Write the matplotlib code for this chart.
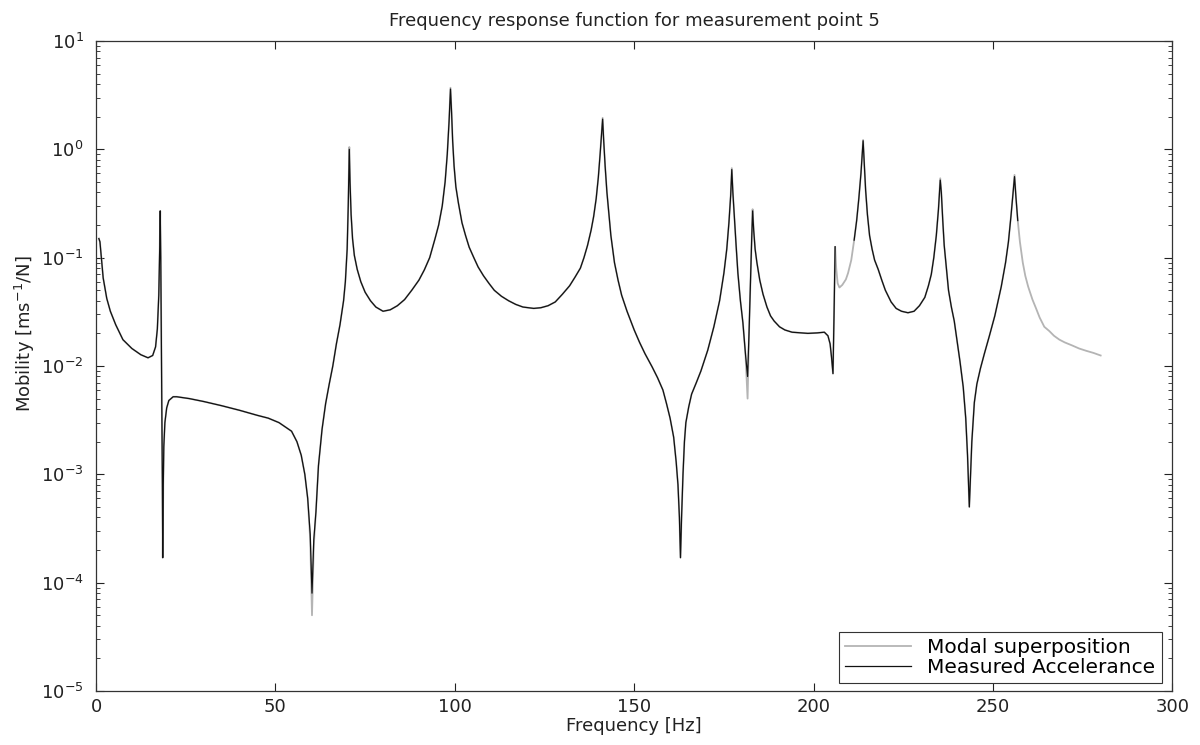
import numpy as np
import matplotlib
matplotlib.use("Agg")
import matplotlib.pyplot as plt
from matplotlib.ticker import LogLocator, NullFormatter

plt.rcParams['font.family'] = ['DejaVu Sans']
plt.rcParams['mathtext.fontset'] = 'dejavusans'
plt.rcParams['mathtext.default'] = 'regular'

title = "Frequency response function for measurement point 5"
x_label = "Frequency [Hz]"
y_label = "Mobility [ms$^{-1}$/N]"
legend_labels = ["Modal superposition", "Measured Accelerance"]
x_ticks = [0, 50, 100, 150, 200, 250, 300]

freq_hz = [
    0.8, 1.1, 1.5, 2.0, 3.0, 4.0, 5.5, 7.5, 10.0, 12.5,
    14.5, 15.8, 16.6, 17.1, 17.5, 17.75, 17.9, 18.05, 18.2, 18.35,
    18.5, 18.6, 18.75, 18.9, 19.2, 19.7, 20.3, 21.5, 22.5, 26.0,
    30.0, 35.0, 40.0, 45.0, 48.0, 51.0, 53.0, 54.5, 56.0, 57.2,
    58.2, 59.0, 59.7, 60.2, 60.7, 61.3, 62.0, 63.0, 64.0, 65.0,
    66.0, 67.0, 68.0, 69.0, 69.5, 70.0, 70.3, 70.6, 70.8, 71.1,
    71.5, 72.0, 72.8, 73.8, 75.0, 76.5, 78.0, 80.0, 82.0, 84.0,
    86.0, 88.0, 90.0, 91.5, 93.0, 94.5, 95.5, 96.5, 97.3, 97.9,
    98.4, 98.8, 99.1, 99.4, 99.8, 100.3, 101.0, 102.0, 103.0, 104.0,
    105.3, 106.5, 108.0, 109.5, 111.0, 113.0, 115.0, 117.0, 119.0, 122.0,
    124.0, 126.0, 128.0, 130.0, 132.0, 133.5, 135.0, 136.0, 137.0, 138.0,
    138.7, 139.4, 140.0, 140.5, 140.9, 141.2, 141.5, 141.9, 142.4, 143.0,
    143.5, 144.0, 144.5, 145.5, 146.5, 148.0, 150.0, 151.5, 153.0, 155.0,
    156.5, 158.0, 159.0, 160.0, 161.0, 161.7, 162.2, 162.6, 162.9, 163.2,
    163.6, 164.0, 164.4, 165.2, 166.0, 167.3, 168.6, 170.5, 172.2, 173.8,
    175.0, 175.8, 176.4, 176.9, 177.2, 177.5, 177.9, 178.4, 178.9, 179.6,
    180.3, 181.0, 181.6, 182.0, 182.4, 182.75, 183.0, 183.3, 183.7, 184.2,
    185.0, 185.9, 187.0, 188.0, 189.0, 190.5, 192.0, 194.0, 198.4, 201.0,
    203.0, 204.0, 204.6, 205.0, 205.4, 205.7, 206.0, 206.3, 206.7, 207.2,
    208.0, 209.0, 209.6, 210.5, 211.3, 212.0, 212.6, 213.2, 213.5, 213.8,
    214.1, 214.5, 215.0, 215.6, 216.3, 217.0, 218.0, 219.0, 220.0, 221.6,
    223.0, 224.5, 226.3, 228.0, 229.5, 231.0, 232.0, 232.8, 233.5, 234.2,
    234.8, 235.3, 235.6, 236.0, 236.4, 237.0, 237.6, 238.4, 239.2, 240.0,
    240.8, 241.7, 242.4, 242.9, 243.2, 243.4, 243.7, 244.1, 244.8, 245.5,
    246.5, 247.6, 249.0, 250.5, 252.3, 253.5, 254.3, 255.0, 255.6, 256.0,
    256.4, 256.9, 257.5, 258.3, 259.0, 259.8, 261.0, 262.0, 263.0, 264.3,
    265.7, 267.0, 268.5, 270.0, 272.0, 274.0, 276.0, 278.0, 280.0,
]

modal_superposition = [
    0.15, 0.14, 0.10, 0.065, 0.042, 0.032, 0.024, 0.0175, 0.0145, 0.0127,
    0.0119, 0.0125, 0.015, 0.022, 0.045, 0.12, 0.27, 0.10, 0.02, 0.004,
    0.0008, 0.00017, 0.0008, 0.0018, 0.003, 0.0041, 0.0048, 0.0052, 0.0052, 0.0050,
    0.0047, 0.0043, 0.0039, 0.0035, 0.0033, 0.0030, 0.0027, 0.0025, 0.0020, 0.0015,
    0.0010, 0.0006, 0.00025, 0.00005, 0.00022, 0.00045, 0.0012, 0.0026, 0.0045, 0.0068,
    0.010, 0.016, 0.024, 0.040, 0.06, 0.12, 0.30, 1.05, 0.50, 0.25,
    0.15, 0.105, 0.078, 0.060, 0.048, 0.040, 0.035, 0.032, 0.033, 0.036,
    0.041, 0.050, 0.062, 0.077, 0.10, 0.15, 0.20, 0.30, 0.50, 0.90,
    1.8, 3.7, 2.2, 1.2, 0.70, 0.45, 0.32, 0.21, 0.16, 0.125,
    0.10, 0.082, 0.068, 0.058, 0.050, 0.044, 0.040, 0.037, 0.035, 0.034,
    0.0345, 0.036, 0.039, 0.046, 0.055, 0.066, 0.080, 0.10, 0.13, 0.18,
    0.24, 0.35, 0.55, 0.90, 1.4, 1.95, 1.2, 0.70, 0.40, 0.24,
    0.16, 0.12, 0.09, 0.062, 0.045, 0.032, 0.0215, 0.0165, 0.013, 0.0098,
    0.0078, 0.0060, 0.0045, 0.0033, 0.0022, 0.0013, 0.0008, 0.0004, 0.00017, 0.0004,
    0.0010, 0.0020, 0.0030, 0.0042, 0.0055, 0.0070, 0.0090, 0.014, 0.023, 0.040,
    0.072, 0.12, 0.21, 0.38, 0.67, 0.40, 0.24, 0.13, 0.072, 0.040,
    0.025, 0.013, 0.005, 0.020, 0.060, 0.15, 0.28, 0.18, 0.12, 0.09,
    0.062, 0.046, 0.035, 0.029, 0.026, 0.023, 0.0215, 0.0205, 0.0200, 0.0202,
    0.0205, 0.019, 0.016, 0.012, 0.0085, 0.030, 0.126, 0.080, 0.058, 0.053,
    0.056, 0.063, 0.072, 0.095, 0.145, 0.22, 0.35, 0.60, 0.85, 1.22,
    0.75, 0.42, 0.25, 0.16, 0.12, 0.095, 0.078, 0.062, 0.050, 0.039,
    0.034, 0.032, 0.031, 0.032, 0.036, 0.043, 0.055, 0.070, 0.10, 0.16,
    0.28, 0.54, 0.40, 0.22, 0.13, 0.080, 0.050, 0.035, 0.026, 0.017,
    0.011, 0.0064, 0.0033, 0.0015, 0.0008, 0.0005, 0.0009, 0.0020, 0.0046, 0.0068,
    0.0095, 0.013, 0.019, 0.029, 0.054, 0.09, 0.14, 0.24, 0.40, 0.58,
    0.36, 0.22, 0.14, 0.09, 0.068, 0.054, 0.041, 0.034, 0.028, 0.023,
    0.021, 0.019, 0.0175, 0.0165, 0.0155, 0.0145, 0.0138, 0.0132, 0.0125,
]

# None marks frequencies where the measured curve is not visible
measured_accelerance = [
    0.15, 0.14, 0.10, 0.065, 0.042, 0.032, 0.024, 0.0175, 0.0145, 0.0127,
    0.0119, 0.0125, 0.015, 0.022, 0.045, 0.12, 0.27, 0.10, 0.02, 0.004,
    0.0008, 0.00017, 0.0008, 0.0018, 0.003, 0.0041, 0.0048, 0.0052, 0.0052, 0.0050,
    0.0047, 0.0043, 0.0039, 0.0035, 0.0033, 0.0030, 0.0027, 0.0025, 0.0020, 0.0015,
    0.0010, 0.0006, 0.00028, 0.00008, 0.00025, 0.00045, 0.0012, 0.0026, 0.0045, 0.0068,
    0.010, 0.016, 0.024, 0.040, 0.06, 0.12, 0.30, 1.00, 0.50, 0.25,
    0.15, 0.105, 0.078, 0.060, 0.048, 0.040, 0.035, 0.032, 0.033, 0.036,
    0.041, 0.050, 0.062, 0.077, 0.10, 0.15, 0.20, 0.30, 0.50, 0.90,
    1.8, 3.6, 2.2, 1.2, 0.70, 0.45, 0.32, 0.21, 0.16, 0.125,
    0.10, 0.082, 0.068, 0.058, 0.050, 0.044, 0.040, 0.037, 0.035, 0.034,
    0.0345, 0.036, 0.039, 0.046, 0.055, 0.066, 0.080, 0.10, 0.13, 0.18,
    0.24, 0.35, 0.55, 0.90, 1.4, 1.90, 1.2, 0.70, 0.40, 0.24,
    0.16, 0.12, 0.09, 0.062, 0.045, 0.032, 0.0215, 0.0165, 0.013, 0.0098,
    0.0078, 0.0060, 0.0045, 0.0033, 0.0022, 0.0013, 0.0008, 0.0004, 0.00017, 0.0004,
    0.0010, 0.0020, 0.0030, 0.0042, 0.0055, 0.0070, 0.0090, 0.014, 0.023, 0.040,
    0.072, 0.12, 0.21, 0.38, 0.65, 0.40, 0.24, 0.13, 0.072, 0.040,
    0.025, 0.013, 0.008, 0.020, 0.060, 0.15, 0.27, 0.18, 0.12, 0.09,
    0.062, 0.046, 0.035, 0.029, 0.026, 0.023, 0.0215, 0.0205, 0.0200, 0.0202,
    0.0205, 0.019, 0.016, 0.012, 0.0085, 0.030, 0.126, None, None, None,
    None, None, None, None, 0.145, 0.22, 0.35, 0.60, 0.85, 1.20,
    0.75, 0.42, 0.25, 0.16, 0.12, 0.095, 0.078, 0.062, 0.050, 0.039,
    0.034, 0.032, 0.031, 0.032, 0.036, 0.043, 0.055, 0.070, 0.10, 0.16,
    0.28, 0.52, 0.40, 0.22, 0.13, 0.080, 0.050, 0.035, 0.026, 0.017,
    0.011, 0.0064, 0.0033, 0.0015, 0.0008, 0.0005, 0.0009, 0.0020, 0.0046, 0.0068,
    0.0095, 0.013, 0.019, 0.029, 0.054, 0.09, 0.14, 0.24, 0.40, 0.56,
    0.36, 0.22, None, None, None, None, None, None, None, None,
    None, None, None, None, None, None, None, None, None,
]

meas = np.array([np.nan if v is None else v for v in measured_accelerance], dtype=float)

fig = plt.figure(figsize=(12, 7.45), dpi=100)
ax = fig.add_axes([0.080, 0.0725, 0.897, 0.8725])

ax.plot(freq_hz, modal_superposition, color='#b4b4b4', lw=1.3, label=legend_labels[0], zorder=2)
ax.plot(freq_hz, meas, color='#111111', lw=0.9, label=legend_labels[1], zorder=3)

ax.set_yscale('log')
ax.set_xlim(0, 300)
ax.set_ylim(1e-5, 1e1)
ax.set_xticks(x_ticks)
ax.xaxis.set_minor_locator(plt.NullLocator())
ax.yaxis.set_major_locator(LogLocator(base=10, numticks=10))
ax.yaxis.set_minor_locator(LogLocator(base=10, subs=np.arange(2, 10), numticks=20))
ax.yaxis.set_minor_formatter(NullFormatter())
ax.xaxis.get_offset_text().set_visible(False)
ax.yaxis.get_offset_text().set_visible(False)

ax.tick_params(which='both', direction='in', top=True, right=True, labelsize=13, colors='#222222')
ax.tick_params(which='major', length=6, width=0.8)
ax.tick_params(which='minor', length=3, width=0.6)
ax.tick_params(axis='x', pad=5)
ax.tick_params(axis='y', pad=9)
for s in ax.spines.values():
    s.set_linewidth(0.9)
    s.set_color('#333333')

ax.set_title(title, fontsize=13, pad=11, color='#222222')
ax.set_xlabel(x_label, fontsize=13, labelpad=1, color='#222222')
ax.set_ylabel(y_label, fontsize=13, color='#222222')
ax.yaxis.set_label_coords(-0.055, 0.55)

leg = ax.legend(loc='lower right', bbox_to_anchor=(0.990, 0.012), fontsize=14.5,
                frameon=True, fancybox=False, edgecolor='#333333', framealpha=1,
                handlelength=3.3, handletextpad=0.8, borderpad=0.3, labelspacing=0.05,
                borderaxespad=0.0)
leg.get_frame().set_linewidth(0.8)

fig.savefig("out.png", dpi=100)
